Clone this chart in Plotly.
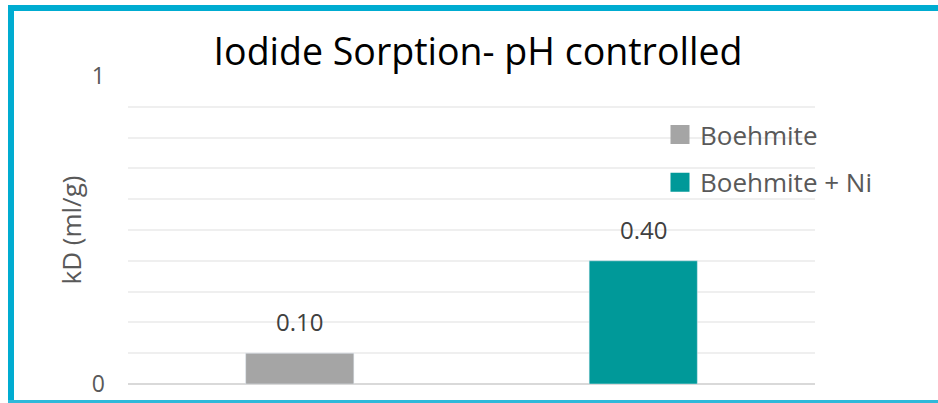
import plotly.graph_objects as go

categories = ["Boehmite", "Boehmite + Ni"]
values = [0.10, 0.40]
labels = ["0.10", "0.40"]
colors = ["#A5A5A5", "#009999"]
y_ticks = [0, 1]
y_ticktext = ["0", "1"]

W, H = 938, 403
L, R, T, B = 128, W - 815, 76, H - 384
pw, ph = W - L - R, H - T - B

def px_x(x):
    return (x - L) / pw

def px_y(y):
    return (H - B - y) / ph

fig = go.Figure()
for cat, val, col in zip(categories, values, colors):
    fig.add_trace(go.Bar(x=[cat], y=[val], marker_color=col, width=0.315,
                         showlegend=False, hoverinfo="skip"))
for i, (cat, col) in enumerate(zip(categories, colors)):
    fig.add_trace(go.Scatter(x=[None], y=[None], mode="markers", name=cat,
                             marker=dict(symbol="square", size=16, color=col,
                                         line=dict(color=col, width=3)),
                             legendgroup=f"g{i}", showlegend=True))

for cat, val, lab in zip(categories, values, labels):
    fig.add_annotation(x=cat, y=val, text=lab, showarrow=False, yanchor="bottom",
                       yshift=13, font=dict(family="Open Sans", size=24, color="#404040"))

tick_font = dict(family="Open Sans", size=23, color="#595959")

fig.update_layout(
    width=W, height=H,
    margin=dict(l=L, r=R, t=T, b=B, autoexpand=False),
    paper_bgcolor="white", plot_bgcolor="white",
    barmode="overlay",
    font=dict(family="Open Sans", color="#595959"),
    title=dict(text="Iodide Sorption- pH controlled", x=478 / W, xanchor="center",
               y=1 - 52 / H, yanchor="middle", yref="container",
               font=dict(family="Open Sans", size=37.5, color="#000000")),
    xaxis=dict(showticklabels=False, showgrid=False, zeroline=False, showline=False,
               ticks="", automargin=False),
    yaxis=dict(range=[0, 1], tickvals=y_ticks, ticktext=y_ticktext,
               tickfont=tick_font, ticklabelstandoff=22, automargin=False,
               showgrid=True, gridcolor="#D9D9D9", gridwidth=2,
               zeroline=True, zerolinecolor="#D9D9D9", zerolinewidth=2,
               minor=dict(dtick=0.1, showgrid=True, gridcolor="#EFEFEF", gridwidth=1.5),
               title=dict(text="kD (ml/g)",
                          font=dict(family="Open Sans", size=26, color="#595959"),
                          standoff=2)),
    legend=dict(x=px_x(660), xanchor="left", y=px_y(111), yanchor="top",
                font=dict(family="Open Sans", size=26, color="#595959"),
                itemwidth=30, tracegroupgap=11, bgcolor="rgba(0,0,0,0)"),
)

border = "#00ACD1"
fig.add_shape(type="line", xref="paper", yref="paper", x0=px_x(11), x1=px_x(11),
              y0=px_y(5), y1=px_y(403), line=dict(color=border, width=6))
fig.add_shape(type="line", xref="paper", yref="paper", x0=px_x(8), x1=px_x(960),
              y0=px_y(8), y1=px_y(8), line=dict(color=border, width=6))
fig.add_shape(type="line", xref="paper", yref="paper", x0=px_x(8), x1=px_x(960),
              y0=px_y(401.5), y1=px_y(401.5), line=dict(color="#2FB9DA", width=3))

fig.write_html("out.html", config={"displayModeBar": False},
               post_script="document.body.style.margin='0px';")
